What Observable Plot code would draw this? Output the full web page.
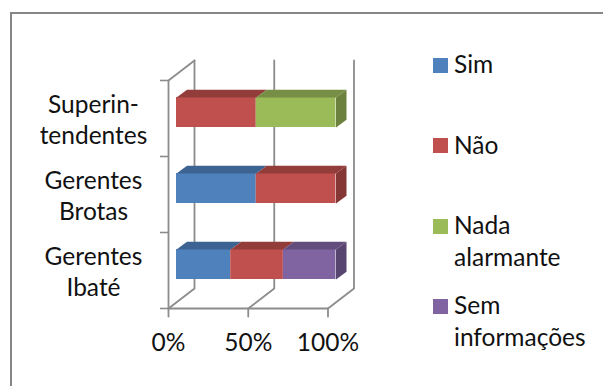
<!DOCTYPE html>
<html><head><meta charset="utf-8">
<script src="https://cdn.jsdelivr.net/npm/d3@7"></script>
<script src="https://cdn.jsdelivr.net/npm/@observablehq/plot@0.6"></script>
<style>
html,body{margin:0;padding:0;background:#fff}
#chart{position:relative;width:603px;height:386px;overflow:hidden}
#chart svg{position:absolute;left:0;top:0}
#box{position:absolute;left:10px;top:12px;width:700px;height:500px;border:2px solid #868686;box-sizing:border-box}
.lg{position:absolute;left:454px;font:24.5px/32px Lato,sans-serif;color:#111}
.sw{position:absolute;left:433px;width:15px;height:15px}
</style></head><body><div id="chart"><div id="box"></div></div>
<script>
const categories = ["Gerentes\nIbaté", "Gerentes\nBrotas", "Superin-\ntendentes"];
const seriesNames = ["Sim", "Não", "Nada alarmante", "Sem informações"];
const seriesColors = ["#4F81BD", "#C0504D", "#9BBB59", "#8064A2"];
const sim = [0.34, 0.5, 0];
const nao = [0.33, 0.5, 0.5];
const nada = [0, 0, 0.5];
const sem = [0.33, 0, 0];
const xTicks = [0, 0.5, 1];
const xLabels = ["0%", "50%", "100%"];

const seriesValues = [sim, nao, nada, sem];
const pxX = 159.5, pxY = 76;            // px per unit of the two scales
const wallX = 26 / pxX, wallY = 20 / pxY;
const barX0 = 8 / pxX, barY0 = 6 / pxY;
const depthX = 10.5 / pxX, depthY = 7.8 / pxY;
const barH = 30 / pxY;

const shade = (c, k) => d3.rgb(c).darker(k).formatHex();
const faces = [], fronts = [];
categories.forEach((cat, i) => {
  let s = 0;
  const yb = i + 0.5 - 15 / pxY + barY0, yt = yb + barH;
  seriesValues.forEach((vals, j) => {
    const v = vals[i]; if (!v) return;
    const a = s + barX0, b = s + v + barX0; s += v;
    fronts.push({x1: a, x2: b, y1: yb, y2: yt, fill: seriesColors[j]});
    const top = [[a, yt], [b, yt], [b + depthX, yt + depthY], [a + depthX, yt + depthY]];
    faces.push({id: `t${i}${j}`, fill: shade(seriesColors[j], 0.75), pts: top});
    if (s >= 0.999) faces.push({id: `s${i}${j}`, fill: shade(seriesColors[j], 1.05),
      pts: [[b, yb], [b + depthX, yb + depthY], [b + depthX, yt + depthY], [b, yt]]});
  });
});
const facePts = faces.flatMap(f => f.pts.map(([x, y]) => ({x, y, id: f.id, fill: f.fill})));

const grid = "#8c8c8c";
const gridLines = [
  ...xTicks.flatMap(t => [
    {id: `w${t}`, x: t + wallX, y: 3 + wallY},
    {id: `w${t}`, x: t + wallX, y: wallY},
    {id: `w${t}`, x: t, y: 0},
    {id: `w${t}`, x: t, y: -8 / pxY}
  ]),
  {id: "axis", x: 0, y: 0}, {id: "axis", x: 0, y: 3},
  {id: "top", x: 0, y: 3}, {id: "top", x: wallX, y: 3 + wallY},
  {id: "base", x: 0, y: 0}, {id: "base", x: 1, y: 0}
];
const yTicks = d3.range(4);

const plot = Plot.plot({
  width: 603, height: 386, margin: 0,
  style: {background: "transparent", fontFamily: "Lato, sans-serif", fontSize: "24.5px", color: "#111"},
  x: {type: "linear", domain: [0, 1], range: [168, 327.5], axis: null},
  y: {type: "linear", domain: [0, 3], range: [308, 80], axis: null},
  marks: [
    Plot.line(gridLines, {x: "x", y: "y", z: "id", stroke: grid, strokeWidth: 1.8, curve: "linear"}),
    Plot.ruleY(yTicks, {y: d => d, x1: -8 / pxX, x2: 0, stroke: grid, strokeWidth: 1.6}),
    Plot.rect(fronts, {x1: "x1", x2: "x2", y1: "y1", y2: "y2", fill: "fill"}),
    Plot.line(facePts, {x: "x", y: "y", z: "id", fill: "fill", stroke: null, curve: "linear-closed"}),
    Plot.text(categories, {x: 0, y: (d, i) => i + 0.5, text: d => d, dx: -75, dy: 0,
      textAnchor: "middle", lineHeight: 1.29, fill: "#111"}),
    Plot.text(xTicks, {x: d => d, y: 0, text: (d, i) => xLabels[i], dy: 35, textAnchor: "middle", fill: "#111"})
  ]
});
document.getElementById("chart").appendChild(plot);

const legendRows = [[48, 58, "Sim"], [129, 138, "Não"], [209, 219, "Nada"], [241, 0, "alarmante"], [289, 299, "Sem"], [321, 0, "informações"]];
const chart = document.getElementById("chart");
let k = 0;
legendRows.forEach(([top, sw, label]) => {
  const d = document.createElement("div");
  d.className = "lg"; d.style.top = top + "px"; d.textContent = label; chart.appendChild(d);
  if (sw) {
    const b = document.createElement("div");
    b.className = "sw"; b.style.top = sw + "px"; b.style.background = seriesColors[k++];
    chart.appendChild(b);
  }
});
</script></body></html>
